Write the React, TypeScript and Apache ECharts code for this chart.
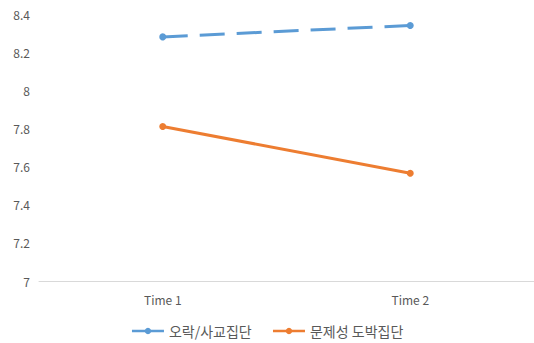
import React, { useEffect, useRef } from "react";
import * as echarts from "echarts";

const categories = ["Time 1", "Time 2"];
const leisureGroup = [8.28, 8.34];
const problemGroup = [7.81, 7.565];
const seriesNames = ["오락/사교집단", "문제성 도박집단"];

export default function App() {
  const ref = useRef<HTMLDivElement>(null);
  useEffect(() => {
    const chart = echarts.init(ref.current!, null, { renderer: "svg" });
    chart.setOption({
      animation: false,
      textStyle: { fontFamily: "'Noto Sans CJK KR', 'Noto Sans', sans-serif" },
      grid: { left: 39, right: 0, top: 14, bottom: 62, containLabel: false },
      legend: {
        bottom: 0,
        padding: 5,
        left: "center",
        itemWidth: 32,
        itemHeight: 8,
        itemGap: 20,
        textStyle: { color: "#595959", fontSize: 14 },
        data: [
          { name: seriesNames[0], lineStyle: { type: "solid", width: 2.5 } },
          { name: seriesNames[1], lineStyle: { type: "solid", width: 2.5 } },
        ],
      },
      xAxis: {
        type: "category",
        data: categories,
        boundaryGap: true,
        axisLine: { lineStyle: { color: "#d9d9d9" } },
        axisTick: { show: false },
        axisLabel: { color: "#595959", fontSize: 12, margin: 12 },
      },
      yAxis: {
        type: "value",
        min: 7,
        max: 8.4,
        interval: 0.2,
        splitLine: { show: false },
        axisLine: { show: false },
        axisTick: { show: false },
        axisLabel: { color: "#595959", fontSize: 12, margin: 9 },
      },
      series: [
        {
          name: seriesNames[0],
          type: "line",
          data: leisureGroup,
          symbol: "circle",
          symbolSize: 7,
          itemStyle: { color: "#5b9bd5" },
          lineStyle: { color: "#5b9bd5", width: 3, type: [25, 12] },
        },
        {
          name: seriesNames[1],
          type: "line",
          data: problemGroup,
          symbol: "circle",
          symbolSize: 7,
          itemStyle: { color: "#ed7d31" },
          lineStyle: { color: "#ed7d31", width: 3 },
        },
      ],
    });
    return () => chart.dispose();
  }, []);
  return (
    <div
      ref={ref}
      style={{ position: "fixed", left: 0, top: 0, width: 534, height: 343, background: "#fff" }}
    />
  );
}
